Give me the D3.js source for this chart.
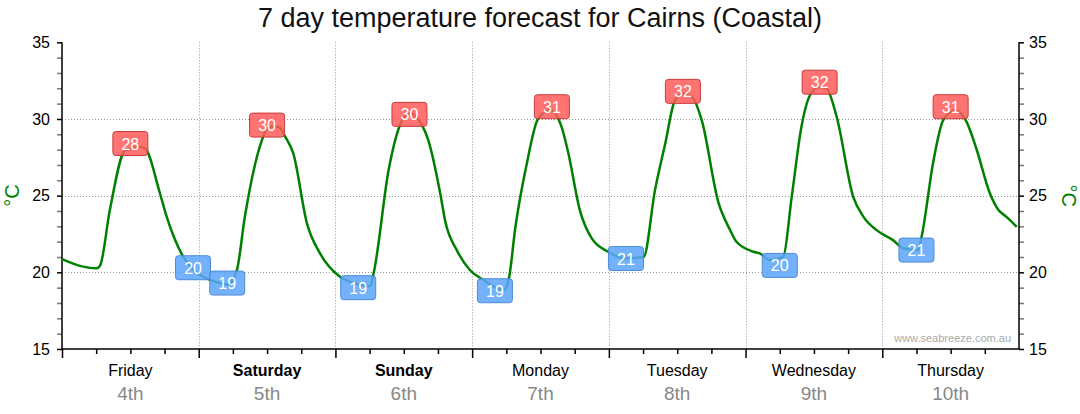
<!DOCTYPE html>
<html>
<head>
<meta charset="utf-8">
<script src="https://cdn.jsdelivr.net/npm/d3@7"></script>
<style>
  html, body { margin: 0; padding: 0; background: #fff; }
  svg { display: block; font-family: "Liberation Sans", Arial, sans-serif; }
</style>
</head>
<body>
<svg id="chart" width="1080" height="414"></svg>
<script>
// ---------- DATA ----------
const chartTitle = "7 day temperature forecast for Cairns (Coastal)";
const dayNames = ["Friday", "Saturday", "Sunday", "Monday", "Tuesday", "Wednesday", "Thursday"];
const dayDates = ["4th", "5th", "6th", "7th", "8th", "9th", "10th"];
const yMajorTicks = [15, 20, 25, 30, 35];
const yGridValues = [20, 25, 30];

// hours since Friday 00:00
const curveHours = [0, 3.5, 6.1, 6.7, 8.4, 11.1, 13.7, 14.6, 17.2, 18.4, 21.3, 24.8, 27.5, 29.1, 30.7,
  32.1, 35.1, 36.2, 38, 39.2, 40.6, 43, 45.3, 48.8, 51.4, 54.1, 54.7, 57.4, 59.9, 61.1, 63.2,
  64.3, 66.4, 67.3, 69.3, 71.6, 74, 77.5, 78.4, 79.6, 81.6, 83.6, 85.7, 87.7, 88.9, 90.9, 93,
  95.9, 98.8, 102.1, 104.1, 105.9, 107.6, 109.1, 110.6, 112.3, 115.2, 117.3, 118.4, 121.4,
  122.5, 124.3, 126.6, 128.1, 129.8, 131.3, 132.8, 134.2, 136, 138.9, 140.7, 143, 145.9,
  147.7, 150.3, 150.9, 153, 154.7, 156.8, 158.8, 160.6, 162.9, 164.4, 165.8, 167.6];
const curveTemps = [20.86, 20.39, 20.26, 20.45, 24.06, 27.96, 28.18, 28.07, 25.14, 23.6, 21.0, 19.71, 19.32, 19.2, 20.15,
  23.62, 28.62, 29.48, 29.5, 28.83, 27.75, 23.19, 21.23, 19.71, 19.28, 19.1, 19.93, 26.8, 30.03, 30.35, 29.6,
  28.62, 25.14, 23.3, 21.45, 20.15, 19.5, 18.84, 19.5, 22.97, 27.1, 30.03, 30.57, 29.48, 27.75, 24.06, 22.21,
  21.34, 20.91, 21.0, 25.36, 28.4, 31.22, 31.66, 31.44, 29.92, 24.6, 22.75, 21.99, 21.34,
  21.23, 20.8, 21.0, 24.92, 29.48, 31.55, 32.09, 31.98, 30.13, 24.92, 23.62, 22.75, 22.1,
  21.56, 21.45, 22.32, 27.31, 29.92, 30.57, 29.81, 27.96, 25.14, 24.06, 23.62, 22.97];

// daily highs / lows shown in boxes
const extremeHours = [12, 23, 29, 36, 52, 61, 76, 86, 99, 109, 126, 133, 150, 156];
const extremeTemps = [28.4, 20.3, 19.3, 29.6, 19.0, 30.3, 18.8, 30.8, 20.9, 31.8, 20.45, 32.4, 21.45, 30.8];
const extremeKinds = ["high", "low", "low", "high", "low", "high", "low", "high", "low", "high", "low", "high", "low", "high"];

// ---------- LAYOUT ----------
const svg = d3.select("#chart");
const pL = 62, pR = 1019, pT = 42.3, pB = 349;
const x = d3.scaleLinear().domain([0, 168]).range([pL, pR]);
const y = d3.scaleLinear().domain([15, 35]).range([pB, pT]);

// title
svg.append("text")
  .attr("x", 540).attr("y", 27)
  .attr("text-anchor", "middle")
  .attr("font-size", 27)
  .attr("fill", "#111")
  .text(chartTitle);

// grid
const grid = svg.append("g").attr("stroke", "#999").attr("stroke-width", 1).attr("stroke-dasharray", "1,2");
grid.selectAll("line.h").data(yGridValues).join("line").attr("class", "h")
  .attr("x1", pL).attr("x2", pR)
  .attr("y1", d => Math.round(y(d)) + 0.5).attr("y2", d => Math.round(y(d)) + 0.5);
grid.selectAll("line.v").data(d3.range(1, 7)).join("line").attr("class", "v")
  .attr("x1", d => Math.round(x(d * 24)) + 0.5).attr("x2", d => Math.round(x(d * 24)) + 0.5)
  .attr("y1", pT).attr("y2", pB);

// axes
const minorY = d3.range(15, 36).filter(v => v % 5 !== 0);
function styleAxis(g, color, width) {
  g.select(".domain").remove();
  g.selectAll(".tick line").attr("stroke", color).attr("stroke-width", width);
}
// left
svg.append("g").attr("transform", `translate(${pL},0)`)
  .call(d3.axisLeft(y).tickValues(minorY).tickSize(5).tickFormat(""))
  .call(g => styleAxis(g, "#777", 1.5));
svg.append("g").attr("transform", `translate(${pL},0)`)
  .call(d3.axisLeft(y).tickValues(yMajorTicks).tickSize(5).tickPadding(7))
  .call(g => styleAxis(g, "#000", 1.5))
  .call(g => g.selectAll("text").attr("font-size", 16).attr("fill", "#000").attr("font-family", "Liberation Sans, Arial, sans-serif"));
// right
svg.append("g").attr("transform", `translate(${pR},0)`)
  .call(d3.axisRight(y).tickValues(minorY).tickSize(5).tickFormat(""))
  .call(g => styleAxis(g, "#777", 1.5));
svg.append("g").attr("transform", `translate(${pR},0)`)
  .call(d3.axisRight(y).tickValues(yMajorTicks).tickSize(5).tickPadding(5))
  .call(g => styleAxis(g, "#000", 1.5))
  .call(g => g.selectAll("text").attr("font-size", 16).attr("fill", "#000").attr("font-family", "Liberation Sans, Arial, sans-serif"));
// bottom
svg.append("g").attr("transform", `translate(0,${pB})`)
  .call(d3.axisBottom(x).tickValues(d3.range(6, 168, 6).filter(h => h % 24 !== 0)).tickSize(5).tickFormat(""))
  .call(g => styleAxis(g, "#000", 1.5));
svg.append("g").attr("transform", `translate(0,${pB})`)
  .call(d3.axisBottom(x).tickValues(d3.range(0, 168, 24)).tickSize(9).tickFormat(""))
  .call(g => styleAxis(g, "#000", 1.5));

// axis lines
const axisLines = svg.append("g").attr("stroke", "#000").attr("stroke-width", 1.5);
axisLines.append("line").attr("x1", pL).attr("x2", pL).attr("y1", pT).attr("y2", pB);
axisLines.append("line").attr("x1", pR).attr("x2", pR).attr("y1", pT).attr("y2", pB);
axisLines.append("line").attr("x1", pL).attr("x2", pR).attr("y1", pB).attr("y2", pB);

// day labels
const days = svg.append("g").attr("text-anchor", "middle");
days.selectAll("text.name").data(dayNames).join("text").attr("class", "name")
  .attr("x", (d, i) => x(i * 24 + 12)).attr("y", 376)
  .attr("font-size", 16)
  .attr("font-weight", d => (d === "Saturday" || d === "Sunday") ? "bold" : "normal")
  .attr("fill", "#000")
  .text(d => d);
days.selectAll("text.date").data(dayDates).join("text").attr("class", "date")
  .attr("x", (d, i) => x(i * 24 + 12)).attr("y", 400)
  .attr("font-size", 19)
  .attr("fill", "#888")
  .text(d => d);

// °C labels
svg.append("text")
  .attr("transform", `translate(19,${(pT + pB) / 2}) rotate(-90)`)
  .attr("text-anchor", "middle").attr("font-size", 20).attr("fill", "#008000")
  .text("°C");
svg.append("text")
  .attr("transform", `translate(1062,${(pT + pB) / 2}) rotate(90)`)
  .attr("text-anchor", "middle").attr("font-size", 20).attr("fill", "#008000")
  .text("°C");

// watermark
svg.append("text")
  .attr("x", 1011).attr("y", 342)
  .attr("text-anchor", "end").attr("font-size", 11).attr("fill", "#aaa")
  .text("www.seabreeze.com.au");

// temperature curve
const pts = curveHours.map((h, i) => [h, curveTemps[i]]);
svg.append("path")
  .datum(pts)
  .attr("fill", "none")
  .attr("stroke", "#008000")
  .attr("stroke-width", 2.5)
  .attr("stroke-linejoin", "round")
  .attr("d", d3.line().x(d => x(d[0])).y(d => y(d[1])).curve(d3.curveMonotoneX));

// high / low boxes
const bw = 35, bh = 24;
const boxes = svg.append("g").selectAll("g").data(extremeHours.map((h, i) => ({h, t: extremeTemps[i], k: extremeKinds[i]})))
  .join("g")
  .attr("transform", d => `translate(${x(d.h)},${y(d.t)})`);
boxes.append("rect")
  .attr("x", -bw / 2).attr("y", -bh / 2).attr("width", bw).attr("height", bh).attr("rx", 3)
  .attr("fill", d => d.k === "high" ? "rgba(255,90,90,0.85)" : "rgba(90,165,250,0.85)")
  .attr("stroke", d => d.k === "high" ? "#c83c3c" : "#4d8ad8")
  .attr("stroke-width", 1);
boxes.append("text")
  .attr("text-anchor", "middle").attr("y", 6)
  .attr("font-size", 16).attr("fill", "#fff")
  .text(d => d3.format(".0f")(d.t));
</script>
</body>
</html>
